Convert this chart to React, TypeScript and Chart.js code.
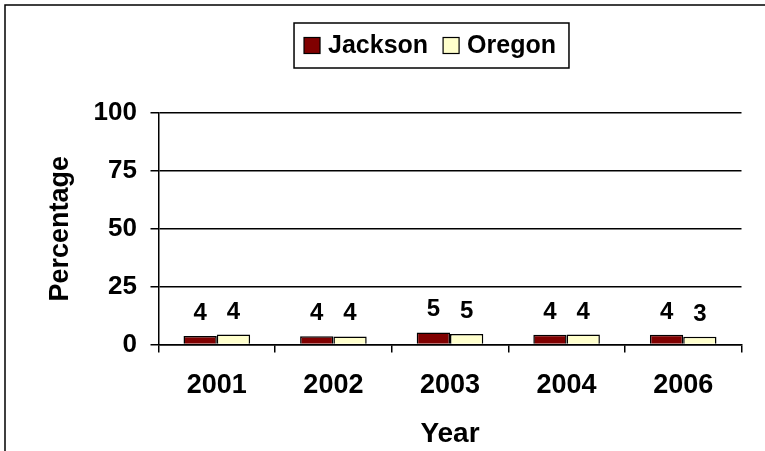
import React, { useEffect, useRef } from "react";
import { Chart, registerables } from "chart.js";

Chart.register(...registerables);

// ---- data ----
const years = ["2001", "2002", "2003", "2004", "2006"];
const jackson = [3.7, 3.6, 5.2, 4.2, 4.2];
const oregon = [4.3, 3.5, 4.5, 4.3, 3.4];
const yTickValues = [0, 25, 50, 75, 100];
const seriesNames = ["Jackson", "Oregon"];
const seriesColors = ["#800000", "#FFFFCC"];
const xTitle = "Year";
const yTitle = "Percentage";

const FONT = "'Liberation Sans', Arial, Helvetica, sans-serif";

const framePlugin = {
  id: "frame",
  beforeDraw(chart: any) {
    const ctx = chart.ctx;
    ctx.save();
    ctx.fillStyle = "#ffffff";
    ctx.fillRect(0, 0, chart.width, chart.height);
    ctx.strokeStyle = "#000000";
    ctx.lineWidth = 1.5;
    ctx.beginPath();
    ctx.moveTo(5, chart.height);
    ctx.lineTo(5, 5);
    ctx.lineTo(chart.width, 5);
    ctx.stroke();
    ctx.restore();
  },
};

const boxedLegendPlugin = {
  id: "boxedLegend",
  afterDraw(chart: any) {
    const ctx = chart.ctx;
    ctx.save();
    ctx.font = `bold 25px ${FONT}`;
    const items = chart.data.datasets.map((d: any) => ({
      label: d.label as string,
      color: d.backgroundColor as string,
    }));
    const widths = items.map((it: any) => ctx.measureText(it.label).width);
    const padL = 10, padR = 13, sw = 16, gapText = 8, gapItem = 15;
    let total = padL + padR;
    items.forEach((_: any, i: number) => {
      total += sw + gapText + widths[i] + (i > 0 ? gapItem : 0);
    });
    const cx = 431.5;
    const top = 23;
    const h = 45;
    const left = cx - total / 2;
    ctx.fillStyle = "#ffffff";
    ctx.fillRect(left, top, total, h);
    ctx.strokeStyle = "#000000";
    ctx.lineWidth = 1.5;
    ctx.strokeRect(left, top, total, h);
    let x = left + padL;
    const midY = top + h / 2;
    items.forEach((it: any, i: number) => {
      if (i > 0) x += gapItem;
      ctx.fillStyle = it.color;
      ctx.fillRect(x, midY - sw / 2, sw, sw);
      ctx.lineWidth = 1.2;
      ctx.strokeStyle = "#000000";
      ctx.strokeRect(x, midY - sw / 2, sw, sw);
      x += sw + gapText;
      ctx.fillStyle = "#000000";
      ctx.textAlign = "left";
      ctx.textBaseline = "middle";
      ctx.fillText(it.label, x, midY + 1);
      x += widths[i];
    });
    ctx.restore();
  },
};

const valueLabelPlugin = {
  id: "valueLabels",
  afterDatasetsDraw(chart: any) {
    const ctx = chart.ctx;
    ctx.save();
    ctx.font = `bold 24px ${FONT}`;
    ctx.fillStyle = "#000000";
    ctx.textAlign = "center";
    ctx.textBaseline = "alphabetic";
    chart.data.datasets.forEach((ds: any, i: number) => {
      const meta = chart.getDatasetMeta(i);
      meta.data.forEach((el: any, j: number) => {
        const v = ds.data[j];
        ctx.fillText(String(Math.round(v)), el.x, el.y - 16);
      });
    });
    ctx.restore();
  },
};

export default function App() {
  const ref = useRef<HTMLCanvasElement | null>(null);

  useEffect(() => {
    if (!ref.current) return;
    const chart = new Chart(ref.current, {
      type: "bar",
      data: {
        labels: years,
        datasets: [
          {
            label: seriesNames[0],
            data: jackson,
            backgroundColor: seriesColors[0],
            borderColor: "#000000",
            borderWidth: 1.5,
            categoryPercentage: 0.571,
            barPercentage: 1,
          },
          {
            label: seriesNames[1],
            data: oregon,
            backgroundColor: seriesColors[1],
            borderColor: "#000000",
            borderWidth: 1.5,
            categoryPercentage: 0.571,
            barPercentage: 1,
          },
        ],
      },
      options: {
        animation: false,
        responsive: false,
        events: [],
        layout: { padding: { top: 113, right: 23.5, bottom: 0, left: 0 } },
        plugins: {
          legend: { display: false },
          tooltip: { enabled: false },
        },
        scales: {
          x: {
            grid: {
              display: true,
              drawOnChartArea: false,
              drawTicks: true,
              tickLength: 8,
              color: "#000000",
              lineWidth: 1.5,
              offset: true,
            },
            border: { display: true, color: "#000000", width: 1.5 },
            ticks: {
              color: "#000000",
              font: { family: FONT, size: 27, weight: "bold" },
              padding: 17,
              maxRotation: 0,
              autoSkip: false,
            },
            title: {
              display: true,
              text: xTitle,
              color: "#000000",
              font: { family: FONT, size: 28, weight: "bold" },
              padding: { top: 0, bottom: 0 },
            },
            afterFit: (s: any) => {
              s.height = 106.5;
            },
          } as any,
          y: {
            min: 0,
            max: 100,
            afterBuildTicks: (s: any) => {
              s.ticks = yTickValues.map((v) => ({ value: v }));
            },
            ticks: {
              color: "#000000",
              font: { family: FONT, size: 26, weight: "bold" },
              padding: 13.5,
              autoSkip: false,
            },
            grid: {
              color: "#000000",
              lineWidth: 1.5,
              tickLength: 8,
              drawTicks: true,
            },
            border: { display: true, color: "#000000", width: 1.5 },
            title: {
              display: true,
              text: yTitle,
              color: "#000000",
              font: { family: FONT, size: 27, weight: "bold" },
              padding: { top: 44, bottom: 0 },
            },
            afterFit: (s: any) => {
              s.width = 158.5;
            },
          } as any,
        },
      },
      plugins: [framePlugin, valueLabelPlugin, boxedLegendPlugin],
    });
    return () => chart.destroy();
  }, []);

  return (
    <div style={{ position: "absolute", left: 0, top: 0, width: 765, height: 451, background: "#fff" }}>
      <canvas ref={ref} width={765} height={451} style={{ display: "block" }} />
    </div>
  );
}
